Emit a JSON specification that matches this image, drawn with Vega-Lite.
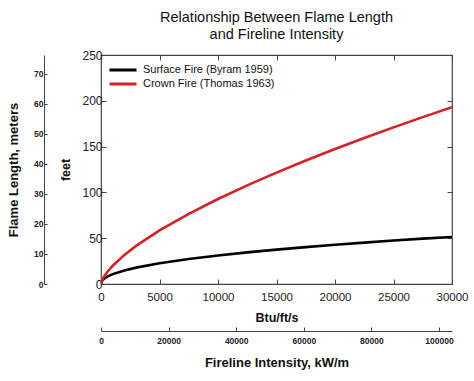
{
  "$schema": "https://vega.github.io/schema/vega-lite/v6.json",
  "width": 351,
  "height": 229,
  "autosize": {"type": "none"},
  "padding": {"left": 101, "top": 55, "right": 22, "bottom": 97},
  "background": "white",
  "config": {
    "font": "Liberation Sans",
    "view": {"stroke": "#444", "strokeWidth": 1.2},
    "axis": {"grid": false, "domain": false, "tickColor": "#444", "labelColor": "#222", "titleColor": "#111"}
  },
  "title": {
    "text": ["Relationship Between Flame Length", "and Fireline Intensity"],
    "fontSize": 14.5,
    "fontWeight": "normal",
    "color": "#111",
    "anchor": "middle",
    "lineHeight": 17,
    "offset": 7
  },
  "data": {
    "values": [
      {"I": 0, "ft": 0, "series": "Surface Fire (Byram 1959)"},
      {"I": 100, "ft": 3.74, "series": "Surface Fire (Byram 1959)"},
      {"I": 250, "ft": 5.71, "series": "Surface Fire (Byram 1959)"},
      {"I": 500, "ft": 7.85, "series": "Surface Fire (Byram 1959)"},
      {"I": 1000, "ft": 10.8, "series": "Surface Fire (Byram 1959)"},
      {"I": 2000, "ft": 14.85, "series": "Surface Fire (Byram 1959)"},
      {"I": 3000, "ft": 17.89, "series": "Surface Fire (Byram 1959)"},
      {"I": 5000, "ft": 22.64, "series": "Surface Fire (Byram 1959)"},
      {"I": 7500, "ft": 27.27, "series": "Surface Fire (Byram 1959)"},
      {"I": 10000, "ft": 31.13, "series": "Surface Fire (Byram 1959)"},
      {"I": 12500, "ft": 34.5, "series": "Surface Fire (Byram 1959)"},
      {"I": 15000, "ft": 37.52, "series": "Surface Fire (Byram 1959)"},
      {"I": 17500, "ft": 40.28, "series": "Surface Fire (Byram 1959)"},
      {"I": 20000, "ft": 42.83, "series": "Surface Fire (Byram 1959)"},
      {"I": 22500, "ft": 45.21, "series": "Surface Fire (Byram 1959)"},
      {"I": 25000, "ft": 47.45, "series": "Surface Fire (Byram 1959)"},
      {"I": 27500, "ft": 49.58, "series": "Surface Fire (Byram 1959)"},
      {"I": 30000, "ft": 51.3, "series": "Surface Fire (Byram 1959)"},
      {"I": 0, "ft": 0, "series": "Crown Fire (Thomas 1963)"},
      {"I": 100, "ft": 4.31, "series": "Crown Fire (Thomas 1963)"},
      {"I": 250, "ft": 7.94, "series": "Crown Fire (Thomas 1963)"},
      {"I": 500, "ft": 12.6, "series": "Crown Fire (Thomas 1963)"},
      {"I": 1000, "ft": 20.0, "series": "Crown Fire (Thomas 1963)"},
      {"I": 2000, "ft": 31.75, "series": "Crown Fire (Thomas 1963)"},
      {"I": 3000, "ft": 41.6, "series": "Crown Fire (Thomas 1963)"},
      {"I": 5000, "ft": 58.48, "series": "Crown Fire (Thomas 1963)"},
      {"I": 7500, "ft": 76.63, "series": "Crown Fire (Thomas 1963)"},
      {"I": 10000, "ft": 92.83, "series": "Crown Fire (Thomas 1963)"},
      {"I": 12500, "ft": 107.7, "series": "Crown Fire (Thomas 1963)"},
      {"I": 15000, "ft": 121.6, "series": "Crown Fire (Thomas 1963)"},
      {"I": 17500, "ft": 134.8, "series": "Crown Fire (Thomas 1963)"},
      {"I": 20000, "ft": 147.4, "series": "Crown Fire (Thomas 1963)"},
      {"I": 22500, "ft": 159.4, "series": "Crown Fire (Thomas 1963)"},
      {"I": 25000, "ft": 171.0, "series": "Crown Fire (Thomas 1963)"},
      {"I": 27500, "ft": 182.2, "series": "Crown Fire (Thomas 1963)"},
      {"I": 30000, "ft": 193.1, "series": "Crown Fire (Thomas 1963)"}
    ]
  },
  "layer": [
    {
      "mark": {"type": "line", "strokeWidth": 2.6, "clip": true},
      "encoding": {
        "x": {
          "field": "I", "type": "quantitative",
          "scale": {"domain": [0, 30000], "nice": false},
          "axis": {"orient": "bottom", "values": [0, 5000, 10000, 15000, 20000, 25000, 30000], "format": "d", "tickSize": -5, "labelPadding": 12, "labelFontSize": 11.5, "labelFlush": false, "title": "Btu/ft/s", "titleFontSize": 12.5, "titleFontWeight": "bold", "titlePadding": 9}
        },
        "y": {
          "field": "ft", "type": "quantitative",
          "scale": {"domain": [0, 250], "nice": false},
          "axis": {"orient": "left", "values": [0, 50, 100, 150, 200, 250], "tickSize": -5, "labelPadding": 4, "labelFontSize": 12, "labelFlush": false, "title": "feet", "titleFontSize": 12.5, "titleFontWeight": "bold", "titlePadding": 9}
        },
        "color": {
          "field": "series", "type": "nominal",
          "scale": {"domain": ["Surface Fire (Byram 1959)", "Crown Fire (Thomas 1963)"], "range": ["#000000", "#d42027"]},
          "legend": {"orient": "none", "legendX": 16, "legendY": 9, "title": null, "symbolType": "M-3,0H3", "symbolSize": 81, "symbolStrokeWidth": 3, "labelFontSize": 11, "labelColor": "#111", "rowPadding": 2, "labelOffset": 14}
        }
      }
    },
    {
      "mark": {"type": "point", "opacity": 0},
      "encoding": {
        "x": {
          "datum": 0, "type": "quantitative",
          "scale": {"domain": [0, 103839], "nice": false},
          "axis": {"orient": "bottom", "offset": 47, "domain": true, "domainColor": "#444", "values": [0, 20000, 40000, 60000, 80000, 100000], "format": "d", "tickSize": -4, "labelPadding": 9, "labelFontSize": 8.5, "labelFontWeight": "bold", "labelFlush": false, "title": "Fireline Intensity, kW/m", "titleFontSize": 13, "titleFontWeight": "bold", "titlePadding": 12}
        },
        "y": {
          "datum": 0, "type": "quantitative",
          "scale": {"domain": [0, 76.2], "nice": false},
          "axis": {"orient": "left", "offset": 57, "domain": true, "domainColor": "#444", "values": [0, 10, 20, 30, 40, 50, 60, 70], "tickSize": -3, "labelPadding": 4, "labelFontSize": 8.5, "labelFontWeight": "bold", "labelFlush": false, "title": "Flame Length, meters", "titleFontSize": 13, "titleFontWeight": "bold", "titlePadding": 13}
        }
      }
    },
    {
      "mark": {"type": "point", "opacity": 0},
      "encoding": {
        "x": {
          "datum": 0, "type": "quantitative",
          "scale": {"domain": [0, 30000], "nice": false},
          "axis": {"orient": "top", "values": [0, 5000, 10000, 15000, 20000, 25000, 30000], "tickSize": -5, "labels": false, "title": null}
        },
        "y": {
          "datum": 0, "type": "quantitative",
          "scale": {"domain": [0, 250], "nice": false},
          "axis": {"orient": "right", "values": [0, 50, 100, 150, 200, 250], "tickSize": -5, "labels": false, "title": null}
        }
      }
    }
  ],
  "resolve": {
    "scale": {"x": "independent", "y": "independent"},
    "axis": {"x": "independent", "y": "independent"}
  }
}
